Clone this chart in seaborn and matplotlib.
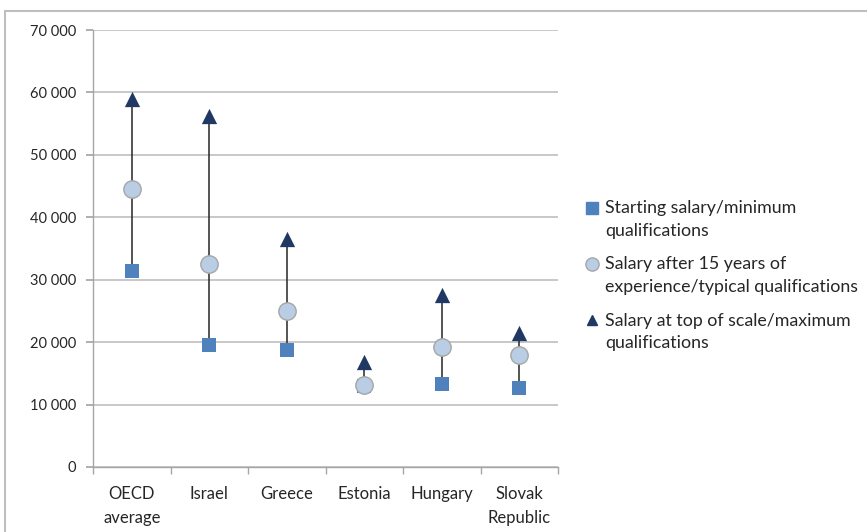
import matplotlib
matplotlib.use("Agg")
import matplotlib.pyplot as plt
import seaborn as sns
import pandas as pd
from matplotlib.ticker import FuncFormatter, FixedLocator, MultipleLocator
from matplotlib.lines import Line2D
from matplotlib.patches import Rectangle
from matplotlib.legend_handler import HandlerLine2D

countries = ["OECD\naverage", "Israel", "Greece", "Estonia", "Hungary", "Slovak\nRepublic"]
starting = [31400, 19600, 18700, 12900, 13300, 12700]
after15 = [44600, 32500, 25000, 13200, 19200, 17900]
top_scale = [58900, 56200, 36500, 16800, 27600, 21500]

series_names = [
    "Starting salary/minimum\nqualifications",
    "Salary after 15 years of\nexperience/typical qualifications",
    "Salary at top of scale/maximum\nqualifications",
]

df = pd.DataFrame({
    "country": countries * 3,
    "salary": starting + after15 + top_scale,
    "series": [series_names[0]] * 6 + [series_names[1]] * 6 + [series_names[2]] * 6,
})

sns.set_theme(style="white")
plt.rcParams["font.family"] = ["Lato", "DejaVu Sans"]

fig = plt.figure(figsize=(8.67, 5.32), dpi=100)
ax = fig.add_axes([0.1073, 0.1222, 0.5363, 0.8214])

grid_c = "#BFBFBF"
sq_c = "#4F81BD"
circ_c = "#B9CDE5"
tri_c = "#1F3864"
txt_c = "#262626"

# range lines from starting to top salary
ax.vlines(range(len(countries)), starting, top_scale, color="#262626", lw=1.1, zorder=2)

palette = {series_names[0]: sq_c, series_names[1]: circ_c, series_names[2]: tri_c}
markers = {series_names[0]: "s", series_names[1]: "o", series_names[2]: "^"}
sizes = {series_names[0]: 10.5, series_names[1]: 12.5, series_names[2]: 11}
for name in series_names:
    sub = df[df["series"] == name]
    sns.scatterplot(
        data=sub, x="country", y="salary", ax=ax,
        color=palette[name], marker=markers[name],
        s=sizes[name] ** 2,
        edgecolor="#A6A6A6" if name == series_names[1] else palette[name],
        linewidth=1.0 if name == series_names[1] else 0,
        zorder=3, legend=False,
    )

ax.set_xlim(-0.5, len(countries) - 0.5)
ax.set_ylim(0, 70000)
ax.yaxis.set_major_locator(MultipleLocator(10000))
ax.yaxis.set_major_formatter(FuncFormatter(lambda v, p: f"{int(v):,}".replace(",", " ")))
ax.yaxis.grid(True, color=grid_c, lw=1.2)
ax.set_axisbelow(True)
ax.set_xlabel("")
ax.set_ylabel("")

for s in ["top", "right"]:
    ax.spines[s].set_visible(False)
for s in ["left", "bottom"]:
    ax.spines[s].set_color("#A6A6A6")
    ax.spines[s].set_linewidth(1.0)

ax.xaxis.set_minor_locator(FixedLocator([i - 0.5 for i in range(len(countries) + 1)]))
ax.tick_params(axis="x", which="major", length=0, pad=14, labelsize=12, labelcolor=txt_c)
ax.tick_params(axis="x", which="minor", length=5, color="#A6A6A6", direction="out", bottom=True)
ax.tick_params(axis="y", which="major", length=5, color="#A6A6A6", direction="out", left=True,
               labelsize=10.5, labelcolor=txt_c, pad=7)
for lbl in ax.get_xticklabels():
    lbl.set_linespacing(1.55)


class FirstLineHandler(HandlerLine2D):
    """Puts the legend marker level with the first line of a two-line label."""
    def __init__(self, shift, **kw):
        super().__init__(**kw)
        self.shift = shift

    def create_artists(self, legend, orig_handle, xdescent, ydescent, width, height,
                       fontsize, trans):
        arts = super().create_artists(legend, orig_handle, xdescent, ydescent, width,
                                      height, fontsize, trans)
        for a in arts:
            a.set_ydata([y + self.shift for y in a.get_ydata()])
        return arts


handles = [
    Line2D([], [], marker="s", ls="", color=sq_c, markersize=8),
    Line2D([], [], marker="o", ls="", markerfacecolor=circ_c, markeredgecolor="#A6A6A6", markersize=9.5),
    Line2D([], [], marker="^", ls="", color=tri_c, markersize=7.5),
]
leg = fig.legend(handles, series_names, loc="center left", bbox_to_anchor=(0.664, 0.482),
                 frameon=False, fontsize=12.8, handletextpad=0.25, labelspacing=1.0,
                 handlelength=1.0, borderaxespad=0,
                 handler_map={Line2D: FirstLineHandler(shift=8.5)})
for t in leg.get_texts():
    t.set_color(txt_c)
    t.set_linespacing(1.5)

fig.patches.append(Rectangle((0.006, -0.05), 1.2, 1.03, transform=fig.transFigure,
                             fill=False, edgecolor="#BFBFBF", lw=1.5))

fig.savefig("out.png", dpi=100)
